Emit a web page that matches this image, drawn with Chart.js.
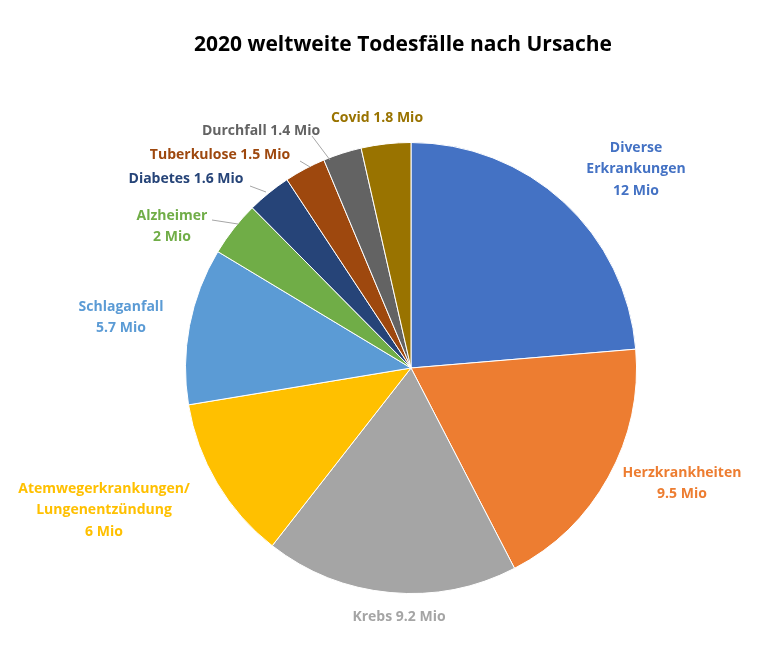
<!DOCTYPE html>
<html><head><meta charset="utf-8">
<script src="https://cdn.jsdelivr.net/npm/chart.js@4"></script>
<style>html,body{margin:0;padding:0;background:#fff}#w{width:767px;height:670px}</style>
</head><body><div id="w"><canvas id="c"></canvas></div>
<script>
const categories = ["Diverse Erkrankungen","Herzkrankheiten","Krebs","Atemwegerkrankungen/ Lungenentzündung","Schlaganfall","Alzheimer","Diabetes","Tuberkulose","Durchfall","Covid"];
const values = [12, 9.5, 9.2, 6, 5.7, 2, 1.6, 1.5, 1.4, 1.8];
const labelLines = [["Diverse","Erkrankungen","12 Mio"],["Herzkrankheiten","9.5 Mio"],["Krebs 9.2 Mio"],["Atemwegerkrankungen/","Lungenentzündung","6 Mio"],["Schlaganfall","5.7 Mio"],["Alzheimer","2 Mio"],["Diabetes 1.6 Mio"],["Tuberkulose 1.5 Mio"],["Durchfall 1.4 Mio"],["Covid 1.8 Mio"]];
const colors = ["#4472C4","#ED7D31","#A5A5A5","#FFC000","#5B9BD5","#70AD47","#264478","#9E480E","#636363","#997300"];
const labelPos = [[636,148],[682,473],[399,617],[104,489],[121,307],[172,216],[186,179],[220,155],[261,131],[377,118]];
const leaders = [null,null,null,null,null,[[212,220],[238,224]],[[250,186],[266,192]],[[300,161],[310,167]],[[312,136],[330,160]],null];
const textPlugin = {id:'txt', afterDraw(chart){
  const ctx = chart.ctx; ctx.save();
  ctx.textAlign='center'; ctx.textBaseline='middle';
  ctx.fillStyle='#000'; ctx.font='bold 21px "Open Sans", "Liberation Sans", sans-serif';
  ctx.fillText('2020 weltweite Todesfälle nach Ursache', 403, 45);
  ctx.font='bold 14px "Open Sans", "Liberation Sans", sans-serif';
  labelLines.forEach((ls,i)=>{
    ctx.fillStyle=colors[i];
    ls.forEach((t,j)=>ctx.fillText(t, labelPos[i][0], labelPos[i][1]+j*21.5));
    if(leaders[i]){ctx.strokeStyle='#a6a6a6';ctx.lineWidth=1;ctx.beginPath();ctx.moveTo(...leaders[i][0]);ctx.lineTo(...leaders[i][1]);ctx.stroke();}
  });
  ctx.restore();
}};
new Chart(document.getElementById('c'), {
  type:'pie',
  data:{labels:categories, datasets:[{data:values, backgroundColor:colors, borderColor:'#fff', borderWidth:1}]},
  options:{responsive:true, maintainAspectRatio:false, animation:false,
    layout:{padding:{top:142,bottom:76,left:185,right:130}},
    plugins:{legend:{display:false}, tooltip:{enabled:false}, title:{display:false}}},
  plugins:[textPlugin]
});
</script></body></html>
